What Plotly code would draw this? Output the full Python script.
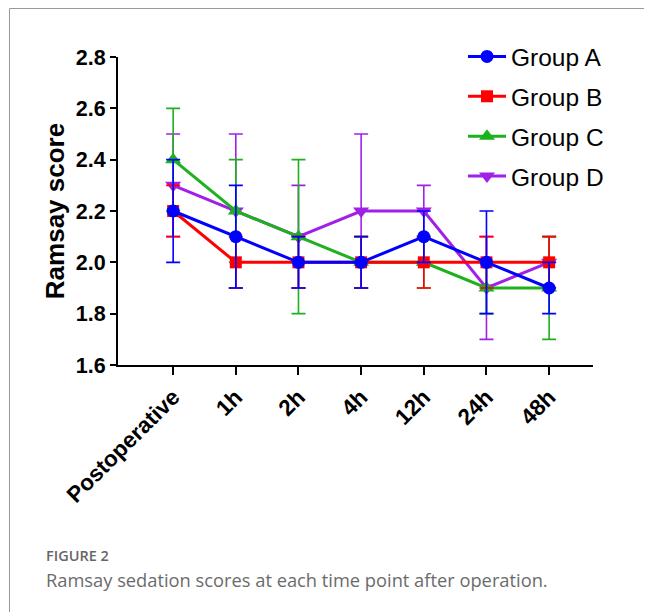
import plotly.graph_objects as go

categories = ["Postoperative", "1h", "2h", "4h", "12h", "24h", "48h"]
group_a = [2.2, 2.1, 2.0, 2.0, 2.1, 2.0, 1.9]
group_a_err = [0.2, 0.2, 0.1, 0.1, 0.1, 0.2, 0.1]
group_b = [2.2, 2.0, 2.0, 2.0, 2.0, 2.0, 2.0]
group_b_err = [0.1, 0.1, 0.1, 0.1, 0.1, 0.1, 0.1]
group_c = [2.4, 2.2, 2.1, 2.0, 2.0, 1.9, 1.9]
group_c_err = [0.2, 0.2, 0.3, 0.1, 0.1, 0.1, 0.2]
group_d = [2.3, 2.2, 2.1, 2.2, 2.2, 1.9, 2.0]
group_d_err = [0.2, 0.3, 0.2, 0.3, 0.1, 0.2, 0.1]
y_ticks = [1.6, 1.8, 2.0, 2.2, 2.4, 2.6, 2.8]

FONT = "Liberation Sans, Arial, sans-serif"

# (name, values, errors, colour, symbol, size, legend rank)
series = [
    ("Group D", group_d, group_d_err, "#A020E8", "triangle-down", 14, 4),
    ("Group C", group_c, group_c_err, "#1DB21D", "triangle-up", 14, 3),
    ("Group B", group_b, group_b_err, "#FF0000", "square", 12, 2),
    ("Group A", group_a, group_a_err, "#0000FF", "circle", 13, 1),
]

fig = go.Figure()
for name, vals, errs, color, sym, size, rank in series:
    fig.add_trace(go.Scatter(
        x=categories, y=vals, name=name, legendgroup=name, legendrank=rank,
        mode="lines+markers",
        line=dict(color=color, width=3),
        marker=dict(symbol=sym, size=size, color=color),
        error_y=dict(type="data", array=errs, visible=True,
                     color=color, thickness=1.6, width=7),
    ))

# page has an 8px body margin; positions below are screen px minus 8
OFF = 8
W, H = 644, 604
L, R, T, B = 118 - OFF, W - (593 - OFF), 57 - OFF, H - (365 - OFF)
pw, ph = W - L - R, H - T - B

def px(x):
    return (x - OFF - L) / pw

def py(y):
    return (H - B - (y - OFF)) / ph

fig.update_layout(
    width=W, height=H,
    margin=dict(l=L, r=R, t=T, b=B),
    paper_bgcolor="white", plot_bgcolor="white",
    font=dict(family=FONT, color="black"),
    showlegend=True,
    legend=dict(
        x=px(463), y=py(34), xanchor="left", yanchor="top",
        traceorder="grouped", tracegroupgap=5, itemwidth=38,
        font=dict(family=FONT, size=24.5, color="black"),
        bgcolor="rgba(0,0,0,0)",
    ),
    xaxis=dict(
        type="category", categoryorder="array", categoryarray=categories,
        range=[-0.88, 6.7],
        showline=True, linecolor="black", linewidth=2,
        ticks="outside", ticklen=8, tickwidth=2, tickcolor="black",
        tickangle=-45, showgrid=False, zeroline=False,
        tickfont=dict(family=FONT, size=22.5, color="black", weight="bold"),
    ),
    yaxis=dict(
        range=[1.6, 2.8], tickvals=y_ticks, ticktext=[f"{v:.1f}" for v in y_ticks],
        showline=True, linecolor="black", linewidth=2,
        ticks="outside", ticklen=6, tickwidth=2, tickcolor="black",
        showgrid=False, zeroline=False,
        tickfont=dict(family=FONT, size=21.5, color="black", weight="bold"),
        title=dict(text="Ramsay score", standoff=4,
                   font=dict(family=FONT, size=26, color="black", weight="bold")),
    ),
    annotations=[
        dict(xref="paper", yref="paper", x=px(44), y=py(555), xanchor="left", yanchor="middle",
             text="FIGURE 2", showarrow=False,
             font=dict(family="Open Sans, sans-serif", size=14.5, color="#666666", weight=600)),
        dict(xref="paper", yref="paper", x=px(44), y=py(579), xanchor="left", yanchor="middle",
             text="Ramsay sedation scores at each time point after operation.", showarrow=False,
             font=dict(family="Open Sans, sans-serif", size=18.3, color="#6b6b6b")),
    ],
    shapes=[
        dict(type="rect", xref="paper", yref="paper",
             x0=px(9.5), y0=py(700), x1=px(720), y1=py(8.5),
             line=dict(color="#9a9a9a", width=1), fillcolor="rgba(0,0,0,0)", layer="below"),
    ],
)

fig.write_html("out.html")
